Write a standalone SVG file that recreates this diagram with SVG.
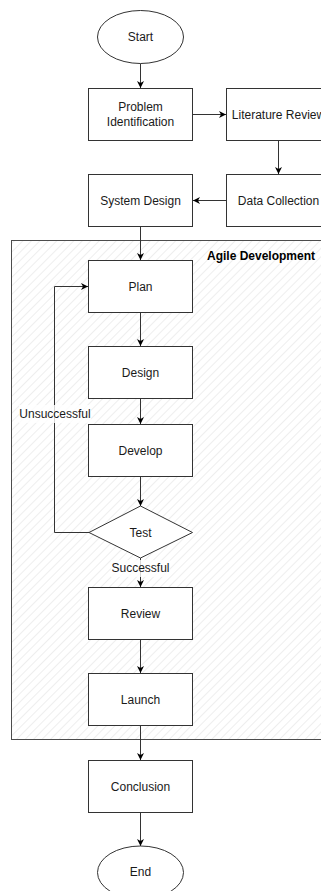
<svg xmlns="http://www.w3.org/2000/svg" width="321" height="891" viewBox="0 0 321 891">
<style>
.box{fill:#ffffff;stroke:#333333;stroke-width:1}
.lbl{font-family:"Liberation Sans",Arial,sans-serif;font-size:12px;fill:#1a1a1a;text-anchor:middle}
.edge{fill:none;stroke:#333333;stroke-width:1}
.elbl{fill:#ffffff;fill-opacity:0.8;stroke:none}
</style>
<defs>
<pattern id="hatch" patternUnits="userSpaceOnUse" width="6" height="6" patternTransform="rotate(45)">
<rect width="6" height="6" fill="#ffffff"/>
<line x1="0" y1="0" x2="0" y2="6" stroke="#e3e3e3" stroke-width="1.2"/>
</pattern>
<marker id="arr" markerWidth="8" markerHeight="8" refX="7" refY="4" orient="auto" markerUnits="userSpaceOnUse">
<path d="M0,0.5 L7,4 L0,7.5 L2,4 Z" fill="#000000"/>
</marker>
</defs>
<rect width="321" height="891" fill="#ffffff"/>

<g id="agile-development">
<rect x="11.5" y="240.5" width="320" height="499" fill="url(#hatch)" stroke="#4d4d4d" stroke-width="1"/>
<text x="315" y="260" font-family="'Liberation Sans',Arial,sans-serif" font-size="12" font-weight="bold" fill="#000000" text-anchor="end">Agile Development</text>
</g>

<g id="connectors">
<path class="edge" d="M140.5,63.5 L140.5,88" marker-end="url(#arr)"/>
<path class="edge" d="M192.5,114.5 L226,114.5" marker-end="url(#arr)"/>
<path class="edge" d="M278.5,140.5 L278.5,174" marker-end="url(#arr)"/>
<path class="edge" d="M226.5,200.5 L193,200.5" marker-end="url(#arr)"/>
<path class="edge" d="M140.5,226.5 L140.5,260" marker-end="url(#arr)"/>
<path class="edge" d="M140.5,312.5 L140.5,346" marker-end="url(#arr)"/>
<path class="edge" d="M140.5,398.5 L140.5,424" marker-end="url(#arr)"/>
<path class="edge" d="M140.5,476.5 L140.5,506" marker-end="url(#arr)"/>
<path class="edge" d="M89,532.5 L54.5,532.5 L54.5,286.5 L88,286.5" marker-end="url(#arr)"/>
<rect class="elbl" x="19" y="405" width="72" height="18"/>
<text class="lbl" x="55" y="418">Unsuccessful</text>
<path class="edge" d="M140.5,558 L140.5,587" marker-end="url(#arr)"/>
<rect class="elbl" x="111" y="560" width="59" height="17"/>
<text class="lbl" x="140.5" y="572">Successful</text>
<path class="edge" d="M140.5,639.5 L140.5,673" marker-end="url(#arr)"/>
<path class="edge" d="M140.5,725.5 L140.5,760" marker-end="url(#arr)"/>
<path class="edge" d="M140.5,812.5 L140.5,846" marker-end="url(#arr)"/>
</g>

<g id="start">
<ellipse class="box" cx="140.5" cy="37" rx="43" ry="26.5"/>
<text class="lbl" x="140.5" y="41">Start</text>
</g>
<g id="problem-identification">
<rect class="box" x="88.5" y="88.5" width="104" height="52"/>
<text class="lbl" x="140.5" y="111">Problem</text>
<text class="lbl" x="140.5" y="125.5">Identification</text>
</g>
<g id="literature-review">
<rect class="box" x="226.5" y="88.5" width="104" height="52"/>
<text class="lbl" x="278.5" y="118.5">Literature Review</text>
</g>
<g id="data-collection">
<rect class="box" x="226.5" y="174.5" width="104" height="52"/>
<text class="lbl" x="278.5" y="204.5">Data Collection</text>
</g>
<g id="system-design">
<rect class="box" x="88.5" y="174.5" width="104" height="52"/>
<text class="lbl" x="140.5" y="204.5">System Design</text>
</g>
<g id="plan">
<rect class="box" x="88.5" y="260.5" width="104" height="52"/>
<text class="lbl" x="140.5" y="290.5">Plan</text>
</g>
<g id="design">
<rect class="box" x="88.5" y="346.5" width="104" height="52"/>
<text class="lbl" x="140.5" y="376.5">Design</text>
</g>
<g id="develop">
<rect class="box" x="88.5" y="424.5" width="104" height="52"/>
<text class="lbl" x="140.5" y="454.5">Develop</text>
</g>
<g id="test">
<polygon class="box" points="140.5,506 192.5,532.5 140.5,558 89,532.5"/>
<text class="lbl" x="140.5" y="536.5">Test</text>
</g>
<g id="review">
<rect class="box" x="88.5" y="587.5" width="104" height="52"/>
<text class="lbl" x="140.5" y="617.5">Review</text>
</g>
<g id="launch">
<rect class="box" x="88.5" y="673.5" width="104" height="52"/>
<text class="lbl" x="140.5" y="703.5">Launch</text>
</g>
<g id="conclusion">
<rect class="box" x="88.5" y="760.5" width="104" height="52"/>
<text class="lbl" x="140.5" y="790.5">Conclusion</text>
</g>
<g id="end">
<ellipse class="box" cx="140.5" cy="872.5" rx="43" ry="26.5"/>
<text class="lbl" x="140.5" y="876">End</text>
</g>
</svg>
